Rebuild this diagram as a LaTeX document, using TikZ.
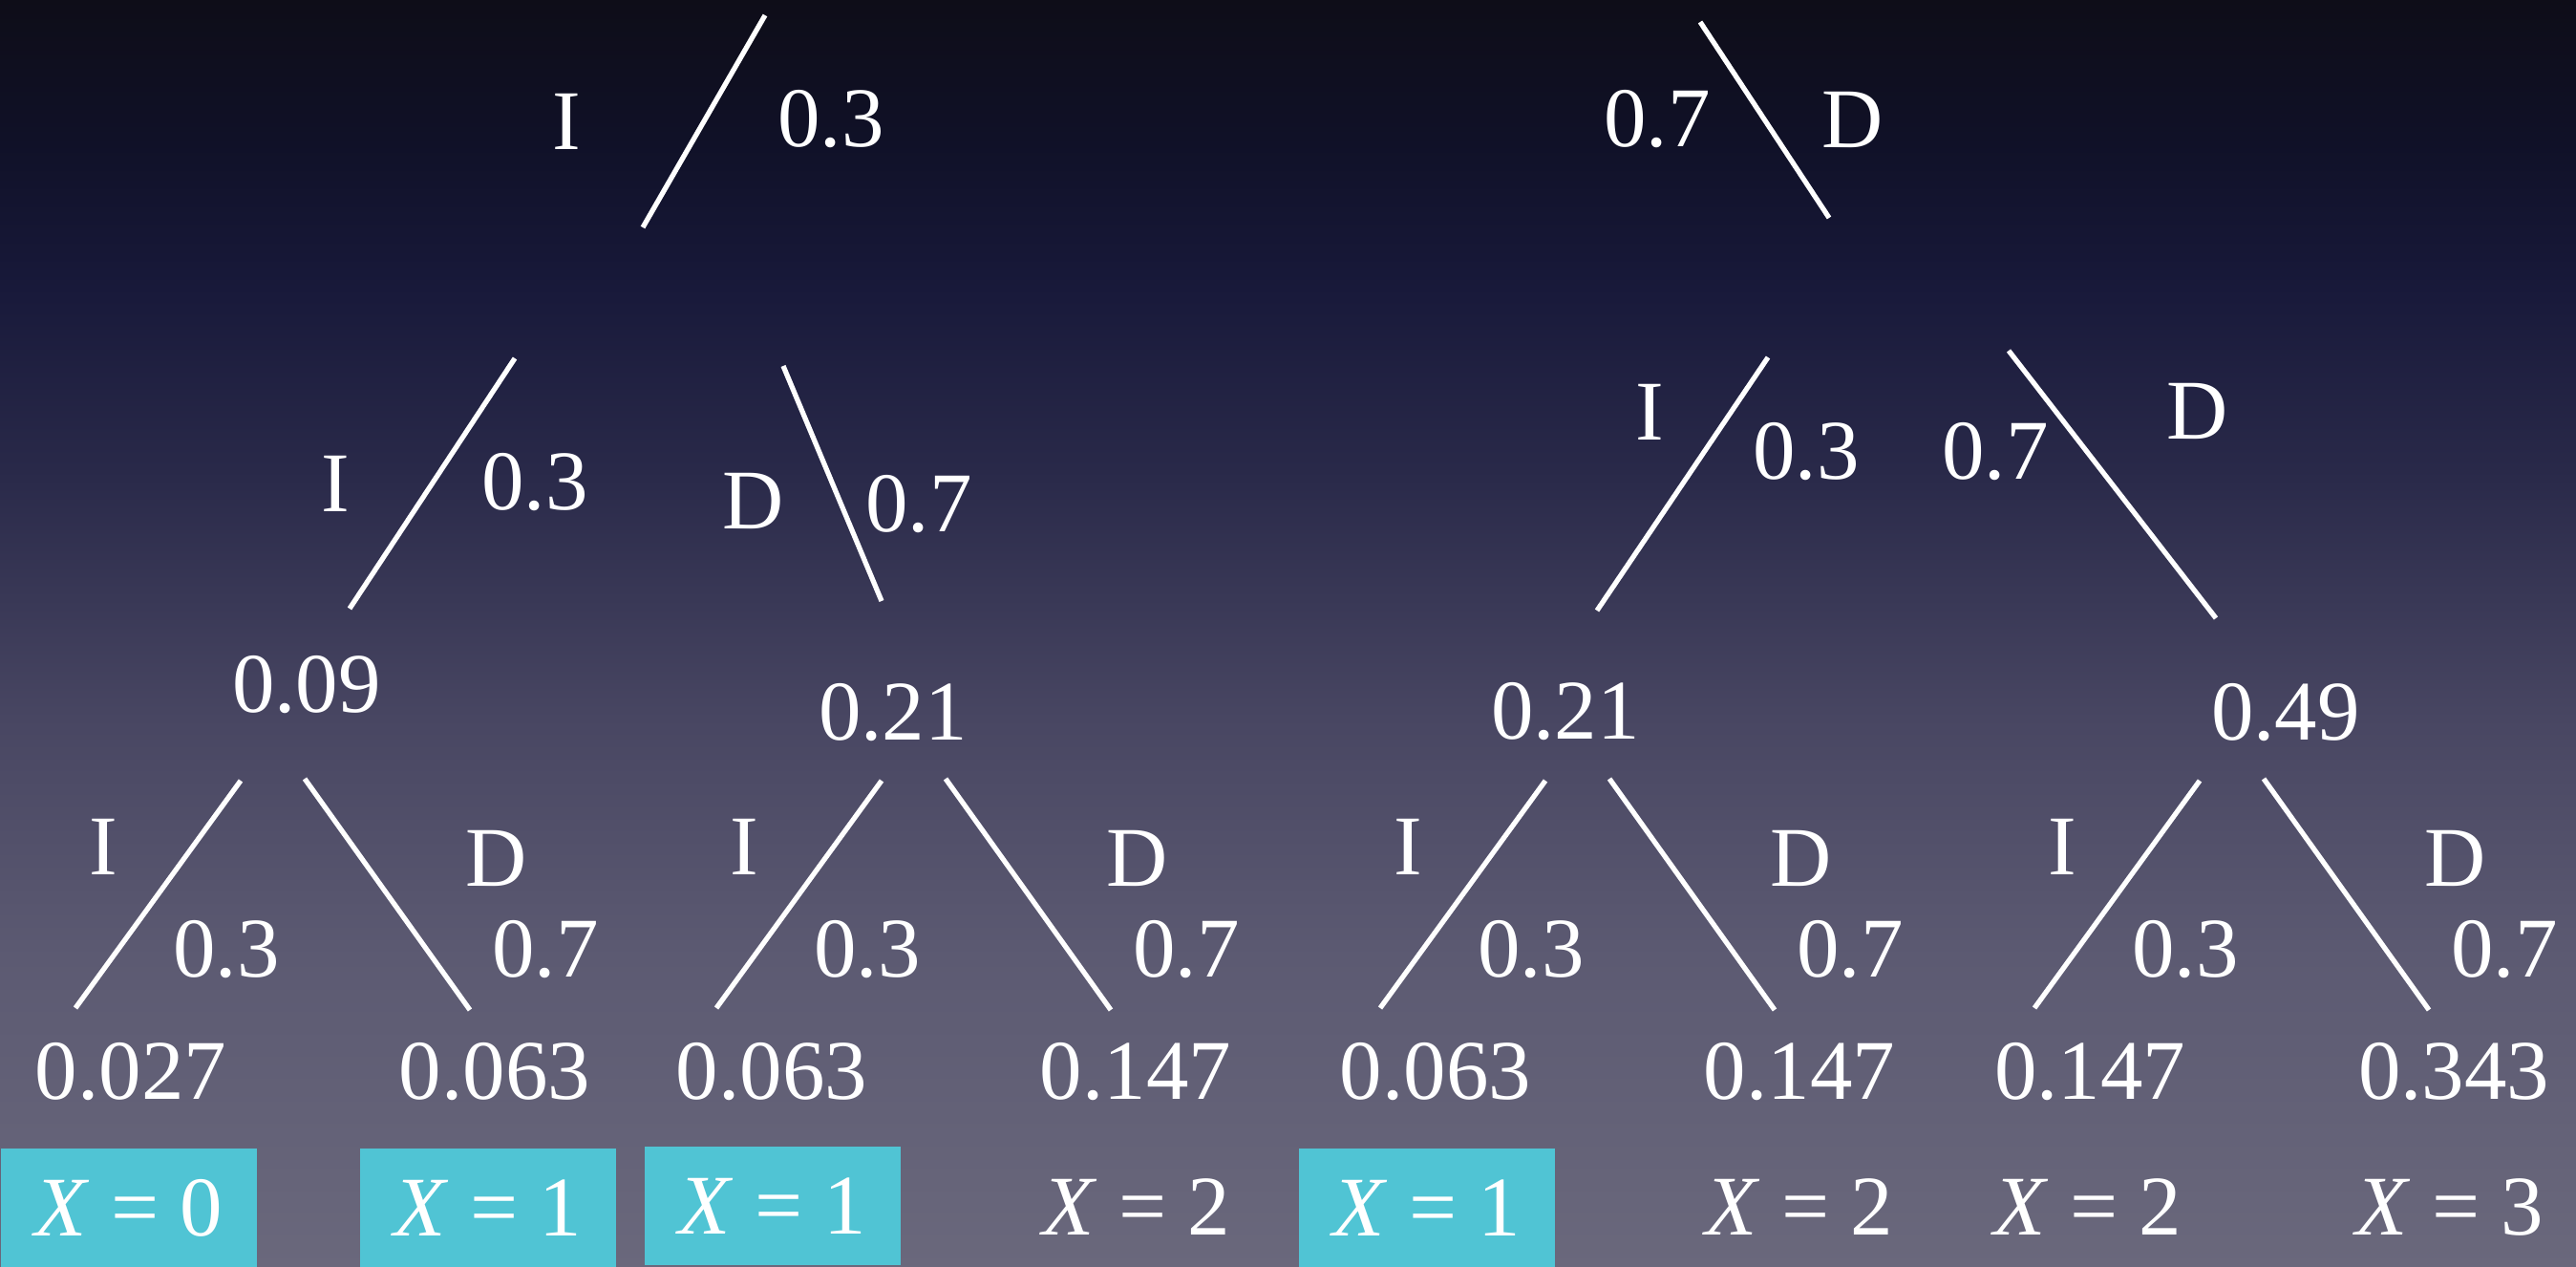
\documentclass[tikz,border=0pt]{standalone}
\usepackage{fontspec}
\setmainfont{Liberation Serif}
\usetikzlibrary{positioning}
\definecolor{bg0}{RGB}{14,13,24}
\definecolor{bg1}{RGB}{16,17,40}
\definecolor{bg2}{RGB}{24,25,58}
\definecolor{bg3}{RGB}{42,42,74}
\definecolor{bg4}{RGB}{72,70,98}
\definecolor{bg5}{RGB}{92,90,114}
\definecolor{bg6}{RGB}{106,104,124}
\definecolor{OutcomeCyan}{RGB}{80,196,212}
\tikzset{
  branch/.style={white,line width=1.5pt},
  lbl/.style={text=white,inner sep=0pt,font=\fontsize{25.3}{30}\selectfont},
  xbox/.style={lbl,fill=OutcomeCyan,minimum width=2.68cm,minimum height=1.24cm},
}

\begin{document}
\begin{tikzpicture}[y=-1cm]
  \useasboundingbox (0,0) rectangle (26.97,13.26);
  % background
  \foreach \ya/\yb/\ca/\cb in {0/1.5/bg0/bg1,1.5/3/bg1/bg2,3/5/bg2/bg3,5/7.5/bg3/bg4,7.5/10/bg4/bg5,10/13.26/bg5/bg6}
    \shade[top color=\ca,bottom color=\cb] (0,\ya) rectangle (26.97,\yb+0.02);

  % first toss
  \coordinate (r-it) at (8.01,0.16); \coordinate (r-ib) at (6.73,2.38);
  \coordinate (r-dt) at (17.80,0.23); \coordinate (r-db) at (19.15,2.28);
  \draw[branch] (r-it) -- (r-ib);
  \draw[branch] (r-dt) -- (r-db);
  \node[lbl] (r-i) at (5.93,1.27) {I};
  \node[lbl] (r-ip) at (8.70,1.25) {0.3};
  \node[lbl] (r-dp) at (17.35,1.25) {0.7};
  \node[lbl] (r-d) at (19.40,1.25) {D};

  % second toss after I
  \coordinate (i-it) at (5.39,3.75); \coordinate (i-ib) at (3.66,6.37);
  \coordinate (i-dt) at (8.20,3.83); \coordinate (i-db) at (9.23,6.29);
  \draw[branch] (i-it) -- (i-ib);
  \draw[branch] (i-dt) -- (i-db);
  \node[lbl] (i-i) at (3.51,5.06) {I};
  \node[lbl] (i-ip) at (5.60,5.05) {0.3};
  \node[lbl] (i-d) at (7.89,5.24) {D};
  \node[lbl] (i-dp) at (9.62,5.28) {0.7};
  \node[lbl] (ii) at (3.21,7.17) {0.09};
  \node[lbl] (id) at (9.35,7.46) {0.21};

  % second toss after D
  \coordinate (d-it) at (18.51,3.74); \coordinate (d-ib) at (16.72,6.39);
  \coordinate (d-dt) at (21.03,3.67); \coordinate (d-db) at (23.20,6.47);
  \draw[branch] (d-it) -- (d-ib);
  \draw[branch] (d-dt) -- (d-db);
  \node[lbl] (d-i) at (17.27,4.31) {I};
  \node[lbl] (d-ip) at (18.91,4.73) {0.3};
  \node[lbl] (d-dp) at (20.89,4.73) {0.7};
  \node[lbl] (d-d) at (23.01,4.30) {D};
  \node[lbl] (di) at (16.39,7.45) {0.21};
  \node[lbl] (dd) at (23.93,7.46) {0.49};

  % third toss
  \foreach \s/\dx/\pl/\pr in {a/0/0.027/0.063,b/6.71/0.063/0.147,c/13.66/0.063/0.147,d/20.51/0.147/0.343}{
    \begin{scope}[xshift=\dx cm]
      \coordinate (\s-it) at (2.52,8.17); \coordinate (\s-ib) at (0.79,10.55);
      \coordinate (\s-dt) at (3.19,8.15); \coordinate (\s-db) at (4.92,10.57);
      \draw[branch] (\s-it) -- (\s-ib);
      \draw[branch] (\s-dt) -- (\s-db);
      \node[lbl] (\s-i) at (1.08,8.86) {I};
      \node[lbl] (\s-ip) at (2.37,9.94) {0.3};
      \node[lbl] (\s-d) at (5.20,8.98) {D};
      \node[lbl] (\s-dp) at (5.71,9.94) {0.7};
      \node[lbl] (\s-l) at (1.37,11.22) {\pl};
      \node[lbl] (\s-r) at (5.18,11.22) {\pr};
    \end{scope}}

  % values of X
  \node[xbox] (x1) at (1.35,12.64) {\textit{X} = 0};
  \node[xbox] (x2) at (5.11,12.64) {\textit{X} = 1};
  \node[xbox] (x3) at (8.09,12.62) {\textit{X} = 1};
  \node[lbl] (x4) at (11.90,12.63) {\textit{X} = 2};
  \node[xbox] (x5) at (14.94,12.64) {\textit{X} = 1};
  \node[lbl] (x6) at (18.84,12.63) {\textit{X} = 2};
  \node[lbl] (x7) at (21.86,12.63) {\textit{X} = 2};
  \node[lbl] (x8) at (25.65,12.63) {\textit{X} = 3};
\end{tikzpicture}
\end{document}
